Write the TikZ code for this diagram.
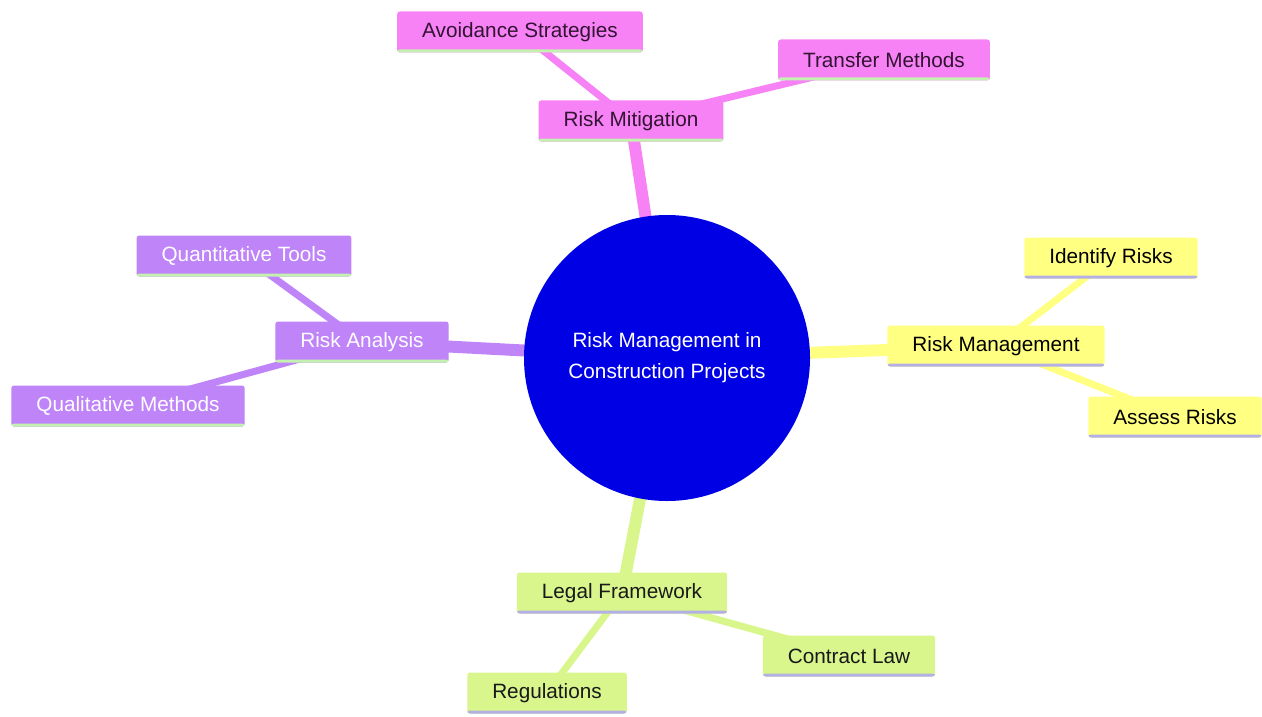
\documentclass[tikz,border=0pt]{standalone}
\usepackage{fontspec}
\setmainfont{Liberation Sans}
\usepackage{tikz}
\usepackage{tikz-dependency}
\pgfdeclarelayer{edges}
\pgfsetlayers{edges,main}

\definecolor{cblue}{RGB}{0,0,228}
\definecolor{mpink}{RGB}{247,130,245}
\definecolor{mpinktext}{RGB}{50,20,50}
\definecolor{mviolet}{RGB}{190,132,248}
\definecolor{myellow}{RGB}{255,255,130}
\definecolor{mgreen}{RGB}{216,246,140}
\definecolor{ugreen}{RGB}{196,240,176}
\definecolor{ulav}{RGB}{180,176,230}

\begin{document}
\begin{tikzpicture}
                \depstyle{cbox}{rectangle, rounded corners=1.5pt, minimum height=0.82cm, inner xsep=0.5cm, font=\fontsize{11.8}{14}\selectfont}
                \depstyle{pbox}{cbox, fill=mpink, text=mpinktext, path picture={\fill[ugreen] ([yshift=0.06cm]path picture bounding box.south west) rectangle (path picture bounding box.south east);}}
                \depstyle{vbox}{cbox, fill=mviolet, text=white, path picture={\fill[ugreen] ([yshift=0.06cm]path picture bounding box.south west) rectangle (path picture bounding box.south east);}}
                \depstyle{ybox}{cbox, fill=myellow, text=black, path picture={\fill[ulav] ([yshift=0.06cm]path picture bounding box.south west) rectangle (path picture bounding box.south east);}}
                \depstyle{gbox}{cbox, fill=mgreen, text=black!90, path picture={\fill[ulav] ([yshift=0.06cm]path picture bounding box.south west) rectangle (path picture bounding box.south east);}}
                \depstyle{cjob}{circle, fill=cblue, text=white, minimum size=5.72cm, inner sep=0pt, align=center, font=\fontsize{11.8}{17.6}\selectfont}
                \depstyle{cline}{line width=6.8pt}
                \depstyle{sline}{line width=4pt}
                \useasboundingbox (0, 0) rectangle (25.24, -14.32);
                % Центр карты:
                \node[cjob] (c)      at (13.34, -7.16)  {Risk Management in\\Construction Projects};

                % Ветви и их листья:
                \node[pbox] (m)      at (12.62, -2.42)  {Risk Mitigation};
                \node[pbox] (m1)     at (10.40, -0.64)  {Avoidance Strategies};
                \node[pbox] (m2)     at (17.68, -1.20)  {Transfer Methods};

                \node[vbox] (a)      at (7.24, -6.84)   {Risk Analysis};
                \node[vbox] (a1)     at (4.88, -5.12)   {Quantitative Tools};
                \node[vbox] (a2)     at (2.56, -8.12)   {Qualitative Methods};

                \node[ybox] (r)      at (19.92, -6.92)  {Risk Management};
                \node[ybox] (r1)     at (22.22, -5.16)  {Identify Risks};
                \node[ybox] (r2)     at (23.50, -8.34)  {Assess Risks};

                \node[gbox] (l)      at (12.44, -11.86) {Legal Framework};
                \node[gbox] (l1)     at (16.98, -13.12) {Contract Law};
                \node[gbox] (l2)     at (10.94, -13.86) {Regulations};

                % Связи под узлами:
                \begin{pgfonlayer}{edges}
                \draw[cline, mpink]   (c.center) -- (m.center);
                \draw[sline, mpink]   (m.center) -- (m1.center);
                \draw[sline, mpink]   (m.center) -- (m2.center);
                \draw[cline, mviolet] (c.center) -- (a.center);
                \draw[sline, mviolet] (a.center) -- (a1.center);
                \draw[sline, mviolet] (a.center) -- (a2.center);
                \draw[cline, myellow] (c.center) -- (r.center);
                \draw[sline, myellow] (r.center) -- (r1.center);
                \draw[sline, myellow] (r.center) -- (r2.center);
                \draw[cline, mgreen]  (c.center) -- (l.center);
                \draw[sline, mgreen]  (l.center) -- (l1.center);
                \draw[sline, mgreen]  (l.center) -- (l2.center);
                \end{pgfonlayer}
\end{tikzpicture}
\end{document}
